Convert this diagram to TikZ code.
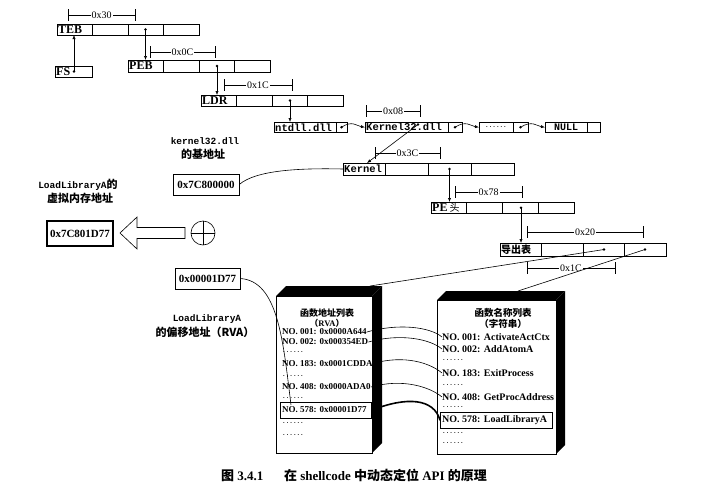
\documentclass[tikz,border=0pt]{standalone}
\usepackage{fontspec}
\setmainfont{Liberation Serif}
\newfontfamily\mono{Liberation Mono}
\newfontfamily\cjk{Noto Sans CJK SC}
\usetikzlibrary{arrows.meta,calc}
\tikzset{
  ln/.style={line width=0.6pt},
  ptr/.style={line width=0.6pt,-{Latex[length=4pt,width=3.2pt]}},
  rowbox/.style={draw,line width=0.6pt,anchor=north west,inner sep=0pt,outer sep=0pt},
  rowlbl/.style={anchor=west,inner sep=1pt,font=\bfseries\fontsize{12}{12}\selectfont},
  monolbl/.style={anchor=west,inner sep=1pt,font=\mono\bfseries\fontsize{10.5}{10.5}\selectfont},
  offs/.style={fill=white,inner sep=1pt,font=\fontsize{10}{10}\selectfont},
  addrbox/.style={draw,line width=0.6pt,inner sep=0pt,font=\bfseries\fontsize{11}{11}\selectfont},
  entry/.style={anchor=west,inner sep=0pt,font=\bfseries\fontsize{9}{9}\selectfont},
  rentry/.style={anchor=west,inner sep=0pt,font=\bfseries\fontsize{10}{10}\selectfont},
  edots/.style={anchor=west,inner sep=0pt,font=\mono\bfseries\fontsize{6}{6}\selectfont},
  hibox/.style={draw,line width=0.6pt,anchor=north west,inner sep=0pt},
  front/.style={draw,line width=0.6pt,fill=white,anchor=north west,inner sep=0pt},
}
\newcommand\offbr[5]{%
  \draw[ln] (#1,#3-6) -- (#1,#3+6) (#2,#3-6) -- (#2,#3+6) (#1,#3) -- (#2,#3);
  \node[offs] (#5) at ({(#1+#2)/2},#3) {#4};}
\newcommand\dotat[3]{\coordinate (#1) at (#2,#3); \fill (#1) circle (1.4pt);}
\begin{document}
\begin{tikzpicture}[x=1pt,y=-1pt]
\useasboundingbox (0,0) rectangle (718,488);

% ---------- TEB ----------
\node[rowbox,minimum width=142pt,minimum height=11pt] (teb) at (57,24) {};
\foreach \x in {92.5,128,163.5} \draw[ln] (\x,24) -- (\x,35);
\node[rowlbl] (tebl) at (57,29.5) {TEB};
\offbr{68}{135}{15}{0x30}{b30}
% ---------- FS ----------
\node[rowbox,minimum width=37pt,minimum height=11pt] (fs) at (55,66) {};
\node[rowlbl] (fsl) at (55,71.5) {FS};
\dotat{fsd}{74}{71.5}
\draw[ptr] (fsd) -- (fsd |- teb.south);
\dotat{tebd}{145.5}{29.5}
% ---------- PEB ----------
\node[rowbox,minimum width=142pt,minimum height=12pt] (peb) at (128,60) {};
\foreach \x in {163.5,199,234.5} \draw[ln] (\x,60) -- (\x,72);
\node[rowlbl] (pebl) at (128,66) {PEB};
\draw[ptr] (tebd) -- (tebd |- peb.north);
\offbr{150}{215}{52}{0x0C}{b0c}
\dotat{pebd}{217}{66}
% ---------- LDR ----------
\node[rowbox,minimum width=142pt,minimum height=11pt] (ldr) at (201,95) {};
\foreach \x in {236.5,272,307.5} \draw[ln] (\x,95) -- (\x,106);
\node[rowlbl] (ldrl) at (201,100.5) {LDR};
\draw[ptr] (pebd) -- (pebd |- ldr.north);
\offbr{224}{292}{85}{0x1C}{b1c}
\dotat{ldrd}{290}{100.5}
% ---------- module list ----------
\node[rowbox,minimum width=62pt,minimum height=10.5pt] (ntdll) at (274,122) {};
\node[rowbox,minimum width=11pt,minimum height=10.5pt] (ntdllp) at (336,122) {};
\node[monolbl] (ntdlll) at (274,127.25) {ntdll.dll};
\node[rowbox,minimum width=83pt,minimum height=10.5pt] (k32) at (365,122) {};
\node[rowbox,minimum width=14pt,minimum height=10.5pt] (k32p) at (448,122) {};
\node[monolbl] (k32l) at (365,127.25) {Kernel32.dll};
\node[rowbox,minimum width=34pt,minimum height=10.5pt] (etc) at (479,122) {};
\node[rowbox,minimum width=15pt,minimum height=10.5pt] (etcp) at (513,122) {};
\node[edots,anchor=center] (etcl) at (496,127.25) {......};
\node[rowbox,minimum width=42pt,minimum height=10.5pt] (nul) at (545,122) {};
\node[rowbox,minimum width=13pt,minimum height=10.5pt] (nulp) at (587,122) {};
\node[font=\mono\bfseries\fontsize{10}{10}\selectfont,inner sep=0pt] (null) at (566,127.25) {NULL};
\draw[ptr] (ldrd) -- (ldrd |- ntdll.north);
\dotat{ntd}{341.5}{127.25}
\dotat{k32d}{455}{127.25}
\dotat{etcd}{520.5}{127.25}
\draw[ptr] (ntd) .. controls (352,120) and (357,126) .. (k32.west);
\draw[ptr] (k32d) .. controls (466,120) and (471,126) .. (etc.west);
\draw[ptr] (etcd) .. controls (532,120) and (537,126) .. (nul.west);
\offbr{366}{420}{111}{0x08}{b08}
\dotat{k32o}{418}{124.5}
% ---------- Kernel ----------
\node[rowbox,minimum width=171pt,minimum height=12pt] (kern) at (343,163) {};
\foreach \x in {385.75,428.5,471.25} \draw[ln] (\x,163) -- (\x,175);
\node[monolbl] (kernl) at (343,169) {Kernel};
\coordinate (kerntop) at (367,163);
\draw[ptr] (k32o) -- (kerntop);
\offbr{375}{440}{153}{0x3C}{b3c}
\dotat{kernd}{449.5}{169}
% ---------- PE header ----------
\node[rowbox,minimum width=143pt,minimum height=11.5pt] (pe) at (431,202) {};
\foreach \x in {466.75,502.5,538.25} \draw[ln] (\x,202) -- (\x,213.5);
\node[rowlbl] (pel) at (431,207.75) {PE\,{\cjk\mdseries\fontsize{10}{10}\selectfont 头}};
\draw[ptr] (kernd) -- (kernd |- pe.north);
\offbr{455}{522}{192}{0x78}{b78}
\dotat{ped}{521}{207.75}
% ---------- export table ----------
\node[rowbox,minimum width=166pt,minimum height=13pt] (exp) at (500,243) {};
\foreach \x in {541.5,583,624.5} \draw[ln] (\x,243) -- (\x,256);
\node[anchor=west,inner sep=1pt,font=\cjk\bfseries\fontsize{10}{10}\selectfont] (expl) at (500,249.5) {导出表};
\draw[ptr] (ped) -- (ped |- exp.north);
\offbr{527}{643}{232}{0x20}{b20}
\dotat{ed1}{604}{249.5}
\dotat{ed2}{645}{249.5}
\offbr{527}{615}{268}{0x1C}{b1c2}

% ---------- left side ----------
\node[font=\mono\bfseries\fontsize{9.5}{9.5}\selectfont] (k32lbl) at (205,141) {kernel32.dll};
\node[font=\cjk\bfseries\fontsize{11}{11}\selectfont] (k32lbl2) at (203,154) {的基地址};
\node[addrbox,minimum width=66pt,minimum height=21pt] (base) at (206,184.5) {0x7C800000};
\draw[ln] (base.east) .. controls (256,170) and (300,168) .. (kern.west);

\node[font=\mono\bfseries\fontsize{9.5}{9.5}\selectfont] (llv1) at (78,185) {LoadLibraryA{\cjk\fontsize{11}{11}\selectfont 的}};
\node[font=\cjk\bfseries\fontsize{11}{11}\selectfont] (llv2) at (80,198) {虚拟内存地址};
\node[addrbox,line width=1.6pt,minimum width=66pt,minimum height=25pt] (va) at (80,233.5) {0x7C801D77};
\draw[ln,fill=white] (120,233) -- (137,217) -- (137,227.5) -- (185,227.5) -- (185,238.5) -- (137,238.5) -- (137,249) -- cycle;
\node[draw,circle,ln,minimum size=24pt,inner sep=0pt] (plus) at (203,233) {};
\draw[ln] (plus.north) -- (plus.south) (plus.west) -- (plus.east);

\node[addrbox,minimum width=65pt,minimum height=21pt] (rva) at (207.5,278.5) {0x00001D77};
\node[font=\mono\bfseries\fontsize{9.5}{9.5}\selectfont] (rval1) at (207,319) {LoadLibraryA};
\node[font=\cjk\bfseries\fontsize{11}{11}\selectfont] (rval2) at (205,332.5) {的偏移地址（RVA）};

% ---------- left 3D box: address table ----------
\fill (276,296) -- (286,286) -- (382,286) -- (372,296) -- cycle;
\fill (372,296) -- (382,286) -- (382,443) -- (372,453) -- cycle;
\node[front,minimum width=96pt,minimum height=157pt] (fat) at (276,296) {};
\node[font=\cjk\bfseries\fontsize{9}{9}\selectfont,inner sep=0pt] (fath) at (327,313.5) {函数地址列表};
\node[font=\bfseries\fontsize{8.5}{8.5}\selectfont,inner sep=0pt] (fath2) at (327,323) {{\cjk （}RVA{\cjk ）}};
\node[entry] (fa1) at (282,332) {NO. 001: 0x0000A644};
\node[entry] (fa2) at (282,342) {NO. 002: 0x000354ED};
\node[edots] (fad1) at (282,352) {......};
\node[entry] (fa183) at (282,363.5) {NO. 183: 0x0001CDDA};
\node[edots] (fad2) at (282,376) {......};
\node[entry] (fa408) at (282,387) {NO. 408: 0x0000ADA0};
\node[edots] (fad3) at (282,398) {......};
\node[hibox,minimum width=91pt,minimum height=16pt] (fa578b) at (280,402) {};
\node[entry] (fa578) at (282,410) {NO. 578: 0x00001D77};
\node[edots] (fad4) at (282,423) {......};
\node[edots] (fad5) at (282,435) {......};

% ---------- right 3D box: name table ----------
\fill (437,300) -- (446,291) -- (565,291) -- (556,300) -- cycle;
\fill (556,300) -- (565,291) -- (565,445) -- (556,454) -- cycle;
\node[front,minimum width=119pt,minimum height=154pt] (fnt) at (437,300) {};
\node[font=\cjk\bfseries\fontsize{9.5}{9.5}\selectfont,inner sep=0pt] (fnh) at (503,313) {函数名称列表};
\node[font=\cjk\bfseries\fontsize{9.5}{9.5}\selectfont,inner sep=0pt] (fnh2) at (503,324) {（字符串）};
\node[rentry] (fn1) at (442,337) {NO. 001: ActivateActCtx};
\node[rentry] (fn2) at (442,349) {NO. 002: AddAtomA};
\node[edots] (fnd1) at (442,360) {......};
\node[rentry] (fn183) at (442,373) {NO. 183: ExitProcess};
\node[edots] (fnd2) at (442,385) {......};
\node[rentry] (fn408) at (442,397) {NO. 408: GetProcAddress};
\node[edots] (fnd3) at (442,407) {......};
\node[hibox,minimum width=112pt,minimum height=16pt] (fn578b) at (440,412) {};
\node[rentry] (fn578) at (442,420) {NO. 578: LoadLibraryA};
\node[edots] (fnd4) at (442,433) {......};
\node[edots] (fnd5) at (442,443) {......};

% ---------- connections ----------
\coordinate (lbtop) at (370,286);
\coordinate (rbtop) at (518,291);
\draw[ln] (ed1) -- (lbtop);
\draw[ln] (ed2) -- (rbtop);
\coordinate (rvaend) at (291,405);
\draw[ln] (rva.east) .. controls (278,281) and (283,340) .. (rvaend);
\draw[ln] (fa1.east) .. controls +(32,-9) and +(-12,-10) .. (fn1.west);
\draw[ln] (fa2.east) .. controls +(32,-9) and +(-12,-10) .. (fn2.west);
\draw[ln] (fa183.east) .. controls +(32,-9) and +(-12,-10) .. (fn183.west);
\draw[ln] (fa408.east) .. controls +(32,-9) and +(-12,-10) .. (fn408.west);
\draw[line width=1.6pt] (fa578b.east) .. controls +(35,-14) and +(-6,-22) .. (fn578b.west);

% ---------- caption ----------
\node[font=\bfseries\fontsize{13}{13}\selectfont] (cap) at (354,475)
  {{\cjk 图} 3.4.1\hspace{1.6em}{\cjk 在} shellcode {\cjk 中动态定位} API {\cjk 的原理}};
\end{tikzpicture}
\end{document}
